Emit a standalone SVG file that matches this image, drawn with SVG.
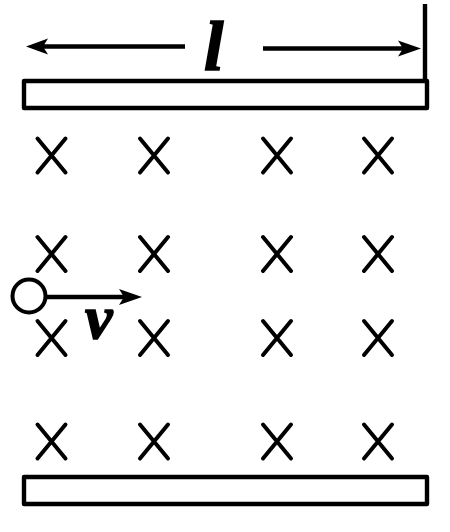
<svg xmlns="http://www.w3.org/2000/svg" width="450" height="532" viewBox="0 0 450 532">
<style>
.plate{fill:#fff;stroke:#000;stroke-width:4.4;stroke-linejoin:round}
.x{fill:none;stroke:#000;stroke-width:4;stroke-linecap:round}
.line{fill:none;stroke:#000;stroke-width:4.4}
.head{fill:#000}
.lbl{font-family:"Liberation Serif",serif;font-weight:bold;font-style:italic;fill:#000;stroke:#000}
</style>
<defs>
<path id="c" class="x" d="M-14 -17L14 17M14 -17L-14 17"/>
</defs>
<rect width="450" height="532" fill="#fff"/>
<g id="plate-top"><rect class="plate" x="24" y="81" width="403" height="27"/></g>
<g id="plate-bottom"><rect class="plate" x="24" y="477" width="403" height="27"/></g>
<g id="field">
<use href="#c" x="51.5" y="155.5"/><use href="#c" x="154" y="155.5"/><use href="#c" x="277" y="155.5"/><use href="#c" x="378" y="155.5"/>
<use href="#c" x="51.5" y="254"/><use href="#c" x="154" y="254"/><use href="#c" x="277" y="254"/><use href="#c" x="378" y="254"/>
<use href="#c" x="51.5" y="338"/><use href="#c" x="154" y="338"/><use href="#c" x="277" y="338"/><use href="#c" x="378" y="338"/>
<use href="#c" x="51.5" y="441.5"/><use href="#c" x="154" y="441.5"/><use href="#c" x="277" y="441.5"/><use href="#c" x="378" y="441.5"/>
</g>
<g id="connectors">
<path class="line" d="M185 46.5H40"/>
<path class="head" d="M26 46.5L48 38.5L43 46.5L48 54.5Z"/>
<path class="line" d="M263 48.5H408"/>
<path class="head" d="M421 48.5L398 40.5L403 48.5L398 56.5Z"/>
<path class="line" d="M425 4V80"/>
<path class="line" d="M47 297H128"/>
<path class="head" d="M142 297L119 289L124 297L119 305Z"/>
</g>
<g id="particle"><circle cx="29" cy="296" r="16.5" fill="#fff" stroke="#000" stroke-width="4"/></g>
<g id="label-l"><text class="lbl" x="204" y="69.5" font-size="70" stroke-width="1.6">l</text></g>
<g id="label-v"><text class="lbl" x="85" y="338" font-size="62" stroke-width="1.6">v</text></g>
</svg>
